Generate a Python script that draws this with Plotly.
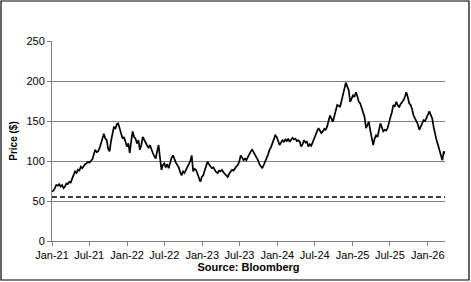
import pandas as pd
import plotly.graph_objects as go

# Weekly closing prices ($), starting 2021-01-01
prices_2021 = [62, 63, 66, 70, 69, 71, 68, 70, 66, 68, 72, 71, 74, 73, 78, 82, 87, 85, 89, 88,
               93, 91, 94, 96, 97, 99, 98, 100, 102, 108, 114, 111, 112, 116, 122, 130, 134, 128,
               126, 115, 112, 125, 135, 143, 140, 146, 147, 140, 132, 128, 130, 124]
prices_2022 = [118, 122, 110, 125, 137, 130, 128, 122, 126, 114, 120, 130, 126, 122, 118, 116,
               120, 114, 110, 106, 103, 112, 120, 104, 89, 95, 97, 92, 96, 91, 99, 104, 107, 102,
               98, 95, 92, 86, 82, 87, 85, 89, 92, 96, 100, 107, 87, 90, 89, 84, 78, 74]
prices_2023 = [80, 82, 88, 94, 99, 96, 93, 91, 92, 88, 86, 85, 88, 87, 89, 86, 84, 81, 80, 84,
               86, 89, 88, 91, 93, 95, 99, 107, 104, 101, 103, 101, 105, 109, 112, 114, 111, 108,
               105, 101, 96, 93, 91, 95, 99, 103, 108, 114, 117, 122, 128, 132]
prices_2024 = [130, 124, 120, 123, 126, 124, 127, 125, 128, 124, 126, 129, 127, 128, 125, 126,
               124, 118, 121, 126, 123, 124, 118, 121, 119, 124, 128, 133, 137, 141, 138, 135,
               137, 140, 139, 143, 150, 157, 153, 149, 156, 165, 170, 169, 168, 175, 182, 192,
               198, 193, 189, 174]
prices_2025 = [178, 182, 180, 186, 181, 174, 172, 166, 162, 155, 141, 145, 149, 138, 126, 120,
               128, 132, 130, 138, 147, 142, 137, 139, 138, 141, 150, 155, 161, 170, 168, 174,
               170, 167, 171, 173, 176, 180, 186, 180, 172, 170, 165, 157, 153, 149, 146, 139,
               143, 149, 151, 150]
prices_2026 = [155, 158, 162, 157, 153, 142, 132, 126, 120, 114, 108, 101, 112, 109]

threshold = [55]
tick_format = "%b-%y"
y_title = "Price ($)"
x_title = "Source: Bloomberg"

prices = prices_2021 + prices_2022 + prices_2023 + prices_2024 + prices_2025 + prices_2026
dates = pd.date_range("2021-01-01", periods=len(prices), freq="7D")

x_start = pd.Timestamp("2021-01-01")
x_end = pd.Timestamp("2026-03-26")

fig = go.Figure()
fig.add_trace(go.Scatter(x=dates, y=prices, mode="lines",
                         line=dict(color="black", width=1.7), showlegend=False,
                         hoverinfo="x+y"))
fig.add_trace(go.Scatter(x=[x_start, x_end], y=threshold * 2, mode="lines",
                         line=dict(color="black", width=1.7, dash="5px,3px"), showlegend=False))

W, H = 471, 282
ml, mr, mt, mb = 52, 26, 41, 41
pw, ph = W - ml - mr, H - mt - mb

fig.update_layout(
    width=W, height=H,
    margin=dict(l=ml, r=mr, t=mt, b=mb),
    paper_bgcolor="white", plot_bgcolor="white",
    font=dict(family="Liberation Sans, Arial, sans-serif", size=11, color="black"),
    xaxis=dict(range=[x_start, x_end], dtick="M6", tick0="2021-01-01",
               tickformat=tick_format, showgrid=False, showline=True,
               linecolor="#808080", linewidth=1, ticks="outside", ticklen=4,
               tickcolor="#808080", zeroline=False,
               title=dict(text="<b>" + x_title + "</b>", standoff=2,
                          font=dict(size=11))),
    yaxis=dict(range=[0, 250], dtick=50, showgrid=True, gridcolor="#808080",
               gridwidth=1, showline=True, linecolor="#808080", linewidth=1,
               ticks="outside", ticklen=4, tickcolor="#808080", zeroline=False,
               title=dict(text="<b>" + y_title + "</b>", standoff=6,
                          font=dict(size=10))),
)

# outer frame around the whole chart
fig.add_shape(type="rect", xref="paper", yref="paper",
              x0=(1 - ml) / pw, x1=(W - 2 - ml) / pw,
              y0=(H - mb - (H - 2)) / ph, y1=(H - mb - 1) / ph,
              line=dict(color="black", width=1.2), fillcolor="rgba(0,0,0,0)",
              layer="above")

fig.write_html("out.html")
